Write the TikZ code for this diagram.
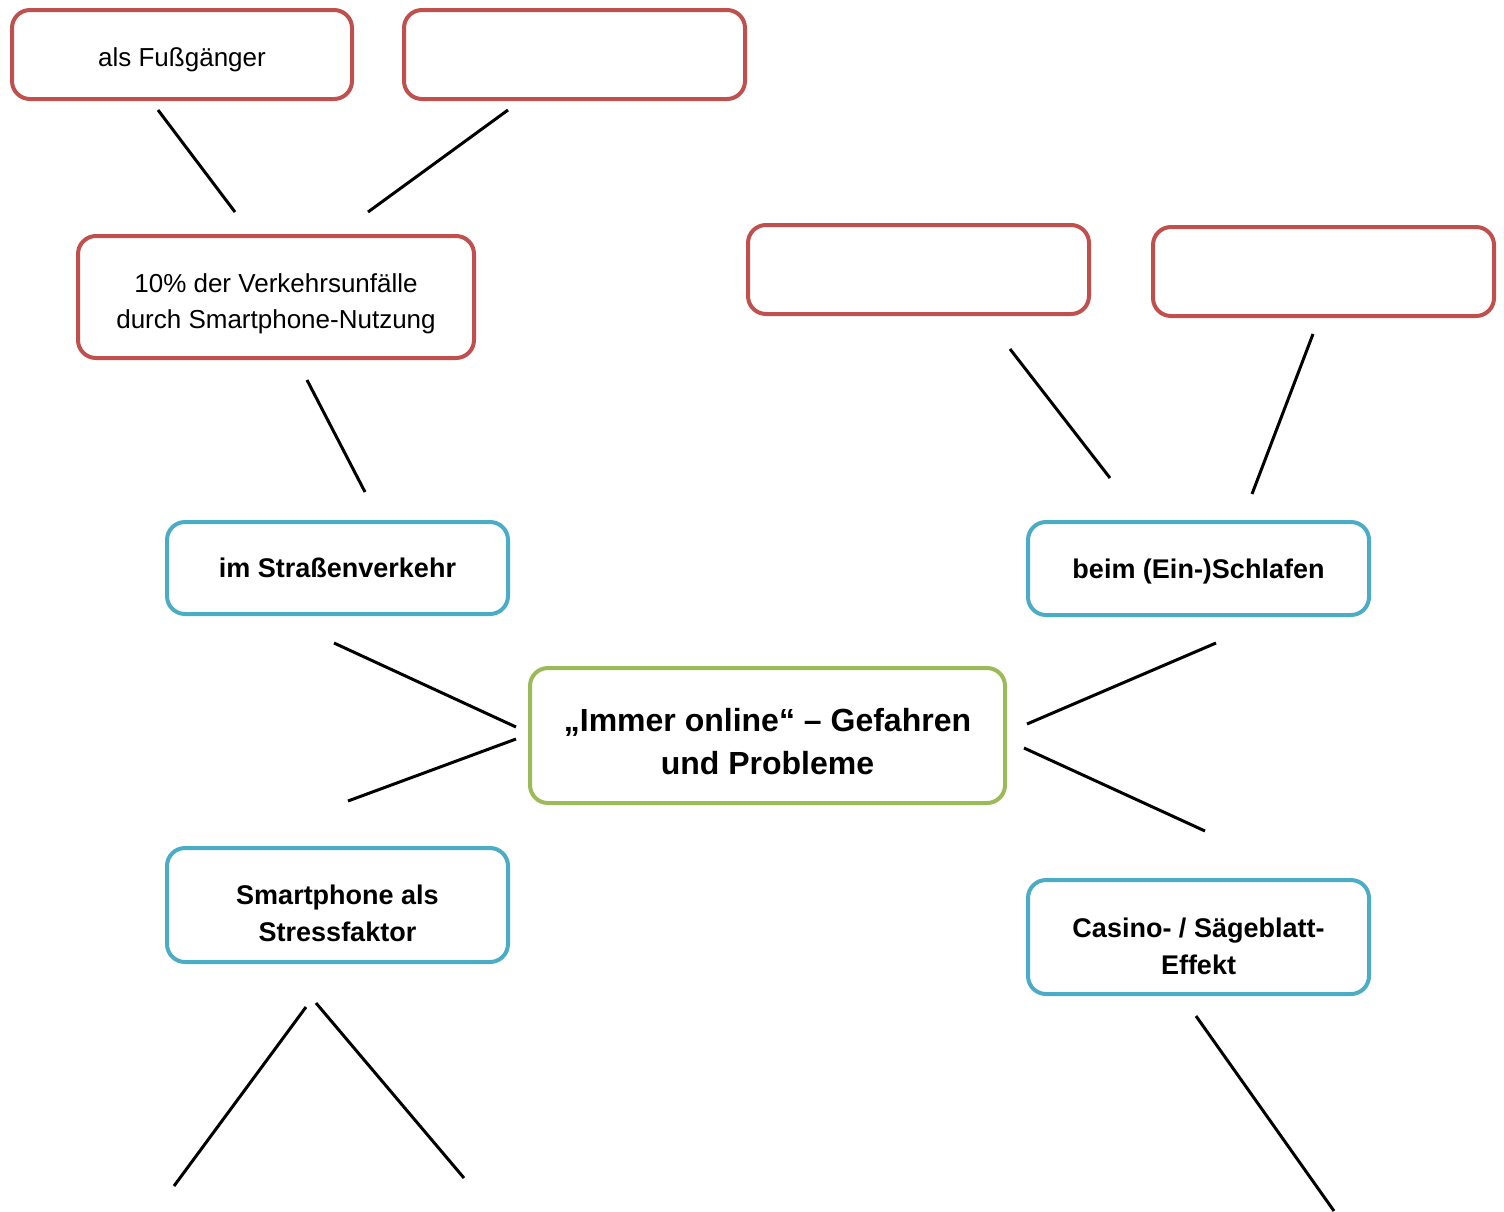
\documentclass[tikz,border=0pt]{standalone}
\usepackage{fontspec}
\setmainfont{Liberation Sans}
\definecolor{boxred}{HTML}{C0504D}
\definecolor{boxblue}{HTML}{4BACC6}
\definecolor{boxgreen}{HTML}{9BBB59}
\begin{document}
\begin{tikzpicture}[x=0.5pt,y=-0.5pt,
  box/.style={draw,line width=2pt,rounded corners=9pt,inner sep=0pt,fill=white},
  redbox/.style={box,draw=boxred},
  bluebox/.style={box,draw=boxblue},
  greenbox/.style={box,draw=boxgreen},
  redtxt/.style={align=center,inner sep=0pt,font=\fontsize{13}{18}\selectfont},
  bluetxt/.style={align=center,inner sep=0pt,font=\fontsize{13.5}{18.5}\selectfont\bfseries},
  greentxt/.style={align=center,inner sep=0pt,font=\fontsize{16}{21.5}\selectfont\bfseries},
  conn/.style={line width=1.5pt,black}]
\useasboundingbox (0,0) rectangle (1504,1211);
% red boxes
\node[redbox,minimum width=170pt,minimum height=44.5pt] (fuss) at (182,54.5) {};
\node[redbox,minimum width=170.5pt,minimum height=44.5pt] (empty1) at (574.5,54.5) {};
\node[redbox,minimum width=198pt,minimum height=61pt] (unf) at (276,297) {};
\node[redbox,minimum width=170.5pt,minimum height=44.5pt] (empty2) at (918.5,269.5) {};
\node[redbox,minimum width=170.5pt,minimum height=44.5pt] (empty3) at (1323.5,271.5) {};
% blue boxes
\node[bluebox,minimum width=170.5pt,minimum height=46pt] (str) at (337.5,568) {};
\node[bluebox,minimum width=170.5pt,minimum height=46.5pt] (schlaf) at (1198.5,568.5) {};
\node[bluebox,minimum width=170.5pt,minimum height=57pt] (stress) at (337.5,905) {};
\node[bluebox,minimum width=170.5pt,minimum height=57pt] (casino) at (1198.5,937) {};
% center
\node[greenbox,minimum width=237.5pt,minimum height=67.5pt] (center) at (767.5,735.5) {};
% texts
\node[redtxt,yshift=-2.5pt] (fuss-t) at (fuss.center) {als Fußgänger};
\node[redtxt,yshift=-3.5pt] (unf-t) at (unf.center) {10\% der Verkehrsunfälle\\durch Smartphone-Nutzung};
\node[bluetxt] (str-t) at (str.center) {im Straßenverkehr};
\node[bluetxt,yshift=-1.5pt] (schlaf-t) at (schlaf.center) {beim (Ein-)Schlafen};
\node[bluetxt,yshift=-4pt] (stress-t) at (stress.center) {Smartphone als\\Stressfaktor};
\node[bluetxt,yshift=-4.5pt] (casino-t) at (casino.center) {Casino- / Sägeblatt-\\Effekt};
\node[greentxt,yshift=-3pt] (center-t) at (center.center) {„Immer online“ – Gefahren\\und Probleme};
% connector end points
\coordinate (a1) at (158,110); \coordinate (a2) at (235,212);
\coordinate (b1) at (508,110); \coordinate (b2) at (368,212);
\coordinate (c1) at (307,380); \coordinate (c2) at (365,492);
\coordinate (d1) at (1010,349); \coordinate (d2) at (1110,478);
\coordinate (e1) at (1313,334); \coordinate (e2) at (1252,494);
\coordinate (f1) at (334,643); \coordinate (f2) at (516,727);
\coordinate (g1) at (516,739); \coordinate (g2) at (348,801);
\coordinate (h1) at (1027,724); \coordinate (h2) at (1216,643);
\coordinate (i1) at (1024,748); \coordinate (i2) at (1205,831);
\coordinate (j1) at (306,1007); \coordinate (j2) at (174,1186);
\coordinate (k1) at (316,1003); \coordinate (k2) at (464,1178);
\coordinate (l1) at (1196,1016); \coordinate (l2) at (1334,1211);
\foreach \p in {a,b,c,d,e,f,g,h,i,j,k,l}
  \draw[conn] (\p1) -- (\p2);
\end{tikzpicture}
\end{document}
